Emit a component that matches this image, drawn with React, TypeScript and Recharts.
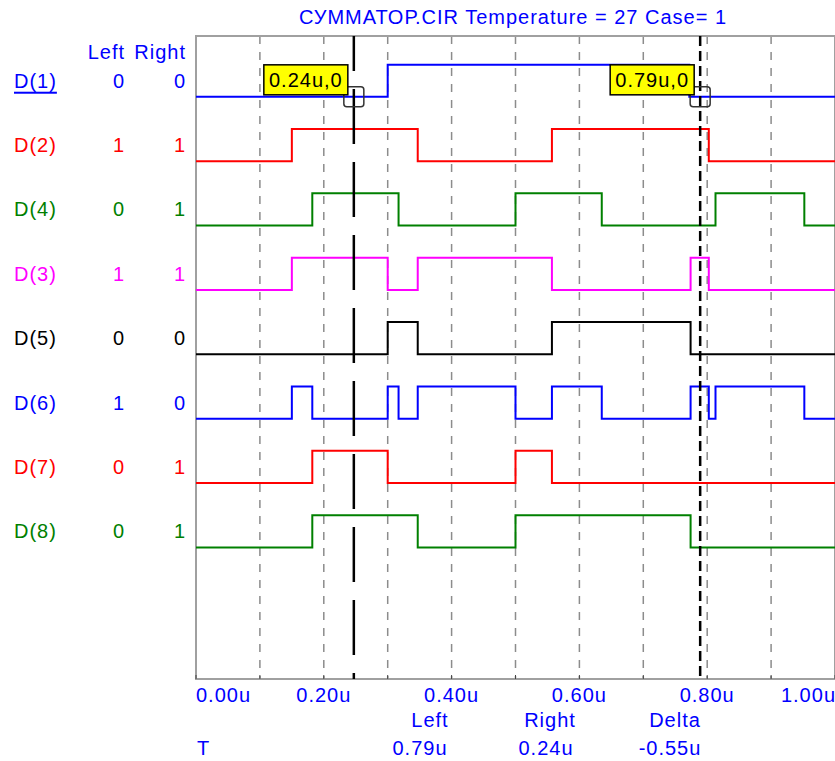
import React from 'react';
import { LineChart, Line, XAxis, YAxis, CartesianGrid, ReferenceArea, ReferenceDot } from 'recharts';

// digital traces, top to bottom
const signalNames = ['D(1)', 'D(2)', 'D(4)', 'D(3)', 'D(5)', 'D(6)', 'D(7)', 'D(8)'];
const signalColors = ['#0000ff', '#ff0000', '#008000', '#ff00ff', '#000000', '#0000ff', '#ff0000', '#008000'];

// edge times (u), every signal starts low at 0
const d1Edges = [0.3, 0.772];
const d2Edges = [0.15, 0.347, 0.557, 0.8025];
const d4Edges = [0.182, 0.317, 0.5, 0.635, 0.813, 0.952];
const d3Edges = [0.15, 0.3, 0.347, 0.557, 0.774, 0.8025];
const d5Edges = [0.3, 0.347, 0.557, 0.774];
const d6Edges = [0.15, 0.182, 0.3, 0.317, 0.347, 0.5, 0.557, 0.635, 0.774, 0.8025, 0.813, 0.952];
const d7Edges = [0.182, 0.3, 0.5, 0.557];
const d8Edges = [0.182, 0.347, 0.5, 0.774];
const allEdges = [d1Edges, d2Edges, d4Edges, d3Edges, d5Edges, d6Edges, d7Edges, d8Edges];

const leftValues = ['0', '1', '0', '1', '0', '1', '0', '0'];
const rightValues = ['0', '1', '1', '1', '0', '0', '1', '1'];

const xTicks = [0, 0.1, 0.2, 0.3, 0.4, 0.5, 0.6, 0.7, 0.8, 0.9, 1.0];

const leftCursor = 0.789;
const rightCursor = 0.247;
const leftCursorText = '0.79u';
const rightCursorText = '0.24u';
const deltaText = '-0.55u';
const titleText = 'СУММАТОР.CIR Temperature = 27 Case= 1';

const Y_MIN = -1.045;
const Y_MAX = 8.945;
const BLUE = '#0000ff';
const FONT = '"Liberation Sans", Arial, sans-serif';
const LS = 1;

const toSteps = (edges: number[], i: number) => {
  const base = 8 - i;
  let level = 0;
  const pts = [{ t: 0, v: base }];
  edges.forEach((e) => {
    level = 1 - level;
    pts.push({ t: e, v: base + level * 0.5 });
  });
  pts.push({ t: 1, v: base + level * 0.5 });
  return pts;
};

const traces = allEdges.map((edges, i) => toSteps(edges, i));
const yTicks = signalNames.map((_, i) => 8 - i + 0.25);

const XTick = (props: any) => {
  const { x, y, payload } = props;
  const k = Math.round(payload.value * 10);
  const anchor = k === 0 ? 'start' : k === 10 ? 'end' : 'middle';
  return (
    <g>
      <line x1={x} x2={x} y1={y - 4} y2={y} stroke="#444" strokeWidth={1} />
      {k % 2 === 0 && (
        <text
          x={k === 10 ? x + LS : x}
          y={y + 16}
          textAnchor={anchor}
          dominantBaseline="central"
          fill={BLUE}
          fontFamily={FONT}
          fontSize={20}
          letterSpacing={LS}
        >
          {payload.value.toFixed(2)}u
        </text>
      )}
    </g>
  );
};

const YTick = (props: any) => {
  const { y, payload } = props;
  const i = Math.round(8.25 - payload.value);
  const c = signalColors[i];
  return (
    <g fontFamily={FONT} fontSize={20} fill={c} letterSpacing={LS}>
      <text x={14} y={y} dominantBaseline="central" textDecoration={i === 0 ? 'underline' : undefined}>
        {signalNames[i]}
      </text>
      <text x={125} y={y} textAnchor="end" dominantBaseline="central">{leftValues[i]}</text>
      <text x={186} y={y} textAnchor="end" dominantBaseline="central">{rightValues[i]}</text>
    </g>
  );
};

const CursorMark = (props: any) => {
  const { cx, cy, text } = props;
  return (
    <g>
      <rect x={cx - 10} y={cy - 10} width={20} height={20} rx={3} fill="none" stroke="#333" strokeWidth={1.5} />
      <rect x={cx - 90} y={cy - 32} width={84} height={30} fill="#ffff00" stroke="#000" strokeWidth={1.5} />
      <text x={cx - 48} y={cy - 17} textAnchor="middle" dominantBaseline="central" fill="#000" fontFamily={FONT} fontSize={20} letterSpacing={LS}>
        {text}
      </text>
    </g>
  );
};

const Txt = ({ x, y, children, anchor = 'middle' }: any) => (
  <div
    style={{
      position: 'absolute',
      left: x,
      top: y,
      transform: `translate(${anchor === 'middle' ? '-50%' : anchor === 'end' ? '-100%' : '0'}, -50%)`,
      color: BLUE,
      fontFamily: FONT,
      fontSize: 20,
      letterSpacing: LS,
      lineHeight: 1,
      whiteSpace: 'nowrap',
    }}
  >
    {children}
  </div>
);

export default function App() {
  return (
    <div style={{ position: 'absolute', left: 0, top: 0, width: 835, height: 761, background: '#fff' }}>
      <LineChart width={835} height={761} margin={{ top: 36, right: 0, left: 0, bottom: 52 }}>
        <CartesianGrid horizontal={false} stroke="#8c8c8c" strokeWidth={1.5} strokeDasharray="8 8" />
        <XAxis
          dataKey="t"
          type="number"
          domain={[0, 1]}
          ticks={xTicks}
          axisLine={false}
          tickLine={false}
          tickSize={0}
          tickMargin={0}
          height={30}
          tick={<XTick />}
          interval={0}
          allowDataOverflow
        />
        <YAxis
          type="number"
          domain={[Y_MIN, Y_MAX]}
          ticks={yTicks}
          width={196}
          axisLine={false}
          tickLine={false}
          tick={<YTick />}
          interval={0}
          allowDataOverflow
        />
        <ReferenceArea x1={0} x2={1} y1={Y_MIN} y2={Y_MAX} fill="none" stroke="#a0a0a0" strokeWidth={2} ifOverflow="visible" />
        {traces.map((d, i) => (
          <Line
            key={signalNames[i]}
            data={d}
            dataKey="v"
            type="stepAfter"
            stroke={signalColors[i]}
            strokeWidth={2}
            dot={false}
            isAnimationActive={false}
          />
        ))}
        <Line
          data={[{ t: rightCursor, v: Y_MAX }, { t: rightCursor, v: Y_MIN }]}
          dataKey="v"
          type="linear"
          stroke="#000"
          strokeWidth={2.5}
          strokeDasharray="55 18"
          strokeDashoffset={20}
          dot={false}
          isAnimationActive={false}
        />
        <Line
          data={[{ t: leftCursor, v: Y_MAX }, { t: leftCursor, v: Y_MIN }]}
          dataKey="v"
          type="linear"
          stroke="#000"
          strokeWidth={2.5}
          strokeDasharray="10 5"
          dot={false}
          isAnimationActive={false}
        />
        <ReferenceDot x={rightCursor} y={8} ifOverflow="visible" shape={(p: any) => <CursorMark {...p} text={`${rightCursorText},0`} />} />
        <ReferenceDot x={leftCursor} y={8} ifOverflow="visible" shape={(p: any) => <CursorMark {...p} text={`${leftCursorText},0`} />} />
      </LineChart>

      <Txt x={513} y={17}>{titleText}</Txt>
      <Txt x={125} y={52} anchor="end">Left</Txt>
      <Txt x={186} y={52} anchor="end">Right</Txt>

      <Txt x={430} y={720}>Left</Txt>
      <Txt x={550} y={720}>Right</Txt>
      <Txt x={675} y={720}>Delta</Txt>
      <Txt x={197} y={748} anchor="start">T</Txt>
      <Txt x={420} y={748}>{leftCursorText}</Txt>
      <Txt x={546} y={748}>{rightCursorText}</Txt>
      <Txt x={670} y={748}>{deltaText}</Txt>
    </div>
  );
}
